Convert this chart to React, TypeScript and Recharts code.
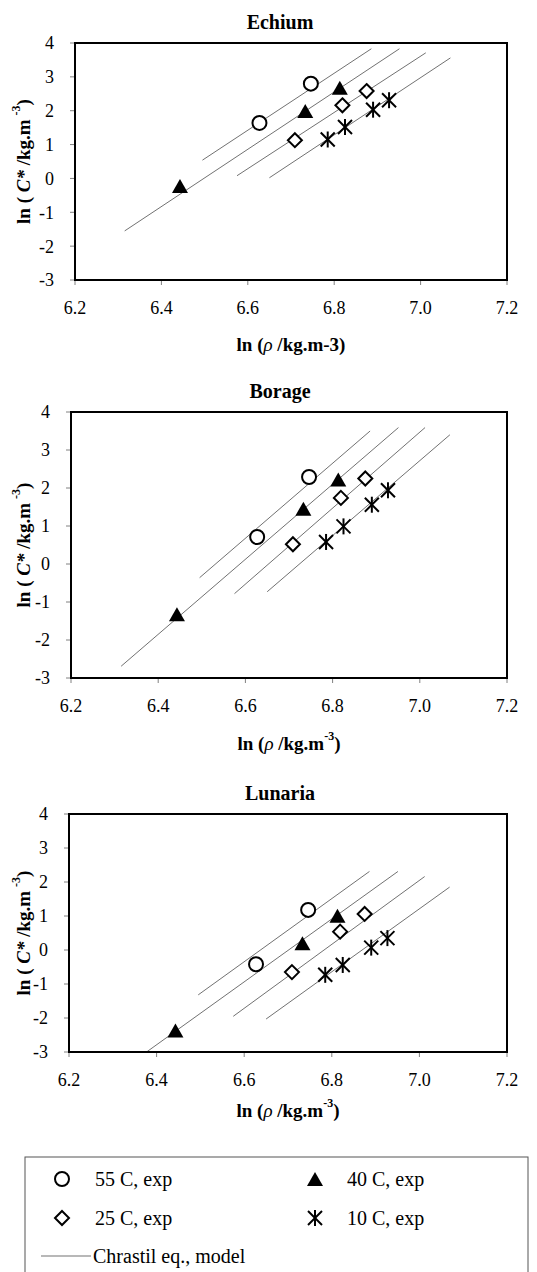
import React from 'react';
import { ScatterChart, Scatter, XAxis, YAxis } from 'recharts';

const FONT = "'Liberation Serif', 'Times New Roman', Times, serif";

const xTicks = [6.2, 6.4, 6.6, 6.8, 7.0, 7.2];
const yTicks = [-3, -2, -1, 0, 1, 2, 3, 4];

// ln(rho) of the experimental points, same for all three oils
const rho55 = [6.627, 6.746];
const rho40 = [6.443, 6.733, 6.813];
const rho25 = [6.709, 6.819, 6.875];
const rho10 = [6.785, 6.825, 6.89, 6.927];

// ln(rho) at the ends of the Chrastil lines
const model55 = [6.495, 6.886];
const model40 = [6.315, 6.951];
const model25 = [6.575, 7.012];
const model10 = [6.65, 7.069];
const lunariaModel40 = [6.377, 6.951];

// Echium
const echium55 = [1.64, 2.8];
const echium40 = [-0.25, 1.96, 2.65];
const echium25 = [1.13, 2.16, 2.58];
const echium10 = [1.15, 1.52, 2.03, 2.31];
const echiumFit55 = [0.54, 3.83];
const echiumFit40 = [-1.55, 3.83];
const echiumFit25 = [0.08, 3.71];
const echiumFit10 = [0.02, 3.56];

// Borage
const borage55 = [0.71, 2.29];
const borage40 = [-1.35, 1.43, 2.2];
const borage25 = [0.52, 1.74, 2.25];
const borage10 = [0.58, 0.99, 1.56, 1.94];
const borageFit55 = [-0.36, 3.5];
const borageFit40 = [-2.69, 3.59];
const borageFit25 = [-0.78, 3.59];
const borageFit10 = [-0.73, 3.4];

// Lunaria
const lunaria55 = [-0.42, 1.18];
const lunaria40 = [-2.4, 0.17, 0.98];
const lunaria25 = [-0.65, 0.54, 1.06];
const lunaria10 = [-0.73, -0.44, 0.07, 0.35];
const lunariaFit55 = [-1.32, 2.31];
const lunariaFit40 = [-3.0, 2.31];
const lunariaFit25 = [-1.95, 2.16];
const lunariaFit10 = [-2.03, 1.85];

const zip = (xs: number[], ys: number[]) => xs.map((x, i) => ({ x, y: ys[i] }));

const OpenCircle = ({ cx, cy }: any) => (
  <circle cx={cx} cy={cy} r={7} fill="#fff" stroke="#000" strokeWidth={2} />
);
const FilledTriangle = ({ cx, cy }: any) => (
  <polygon points={`${cx},${cy - 8} ${cx - 8},${cy + 6} ${cx + 8},${cy + 6}`} fill="#000" />
);
const OpenDiamond = ({ cx, cy }: any) => (
  <polygon
    points={`${cx},${cy - 7} ${cx + 7},${cy} ${cx},${cy + 7} ${cx - 7},${cy}`}
    fill="#fff"
    stroke="#000"
    strokeWidth={2}
  />
);
const Star = ({ cx, cy }: any) => (
  <g stroke="#000" strokeWidth={2}>
    <line x1={cx} y1={cy - 8} x2={cx} y2={cy + 8} />
    <line x1={cx - 7} y1={cy - 7} x2={cx + 7} y2={cy + 7} />
    <line x1={cx - 7} y1={cy + 7} x2={cx + 7} y2={cy - 7} />
  </g>
);
const NoShape = () => <g />;

interface PanelProps {
  title: string;
  top: number;
  height: number;
  plotTop: number;
  plotBottom: number;
  plotLeft: number;
  xLabelGap: number;
  supLabel: boolean;
  pts: number[][];
  fits: number[][];
  fit40x: number[];
}

const PLOT_RIGHT = 507;

function Panel({ title, top, height, plotTop, plotBottom, plotLeft, xLabelGap, supLabel, pts, fits, fit40x }: PanelProps) {
  const tickStyle = { fill: '#000', fontSize: 18, style: { fontFamily: FONT } };
  const lineStyle = { stroke: '#333', strokeWidth: 0.7 };

  const yTitle = (props: any) => {
    const vb = props.viewBox;
    const cy = vb.y + vb.height / 2;
    return (
      <text
        transform={`translate(23,${cy}) rotate(-90)`}
        textAnchor="middle"
        dominantBaseline="central"
        style={{ fontFamily: FONT }}
        fontWeight="bold"
        fontSize={19}
        fill="#000"
      >
        ln ( <tspan fontStyle="italic">C*</tspan> /kg.m
        <tspan dx={4} dy={-7} fontSize={12}>-3</tspan>
        <tspan dy={7}>)</tspan>
      </text>
    );
  };

  const xTitle = (props: any) => {
    const vb = props.viewBox;
    const cx = vb.x + vb.width / 2;
    return (
      <text
        x={cx}
        y={vb.y + xLabelGap}
        textAnchor="middle"
        dominantBaseline="central"
        style={{ fontFamily: FONT }}
        fontWeight="bold"
        fontSize={19}
        fill="#000"
      >
        ln (<tspan fontStyle="italic" fontWeight="normal">ρ</tspan>  /kg.m
        {supLabel ? (
          <>
            <tspan dy={-7} fontSize={12}>-3</tspan>
            <tspan dy={7}>)</tspan>
          </>
        ) : (
          <tspan>-3)</tspan>
        )}
      </text>
    );
  };

  return (
    <div style={{ position: 'absolute', left: 0, top, width: 537, height }}>
      <div
        style={{
          position: 'absolute',
          left: 0,
          width: 560,
          top: plotTop - 31,
          textAlign: 'center',
          fontFamily: FONT,
          fontWeight: 'bold',
          fontSize: 20,
          lineHeight: '20px',
        }}
      >
        {title}
      </div>
      <ScatterChart width={537} height={height} margin={{ top: plotTop, right: 537 - PLOT_RIGHT, bottom: 0, left: 0 }}>
        <XAxis
          type="number"
          dataKey="x"
          domain={[6.2, 7.2]}
          ticks={xTicks}
          interval={0}
          tickFormatter={(v: number) => v.toFixed(1)}
          axisLine={false}
          tickLine={{ stroke: '#808080' }}
          tickSize={5}
          tickMargin={16}
          tick={tickStyle}
          height={height - plotBottom}
          label={{ content: xTitle }}
        />
        <YAxis
          type="number"
          dataKey="y"
          domain={[-3, 4]}
          ticks={yTicks}
          interval={0}
          axisLine={false}
          tickLine={{ stroke: '#808080' }}
          tickSize={5}
          tickMargin={16}
          tick={tickStyle}
          width={plotLeft}
          label={{ content: yTitle }}
        />
        <Scatter data={zip(model55, fits[0])} line={lineStyle} shape={NoShape} isAnimationActive={false} />
        <Scatter data={zip(fit40x, fits[1])} line={lineStyle} shape={NoShape} isAnimationActive={false} />
        <Scatter data={zip(model25, fits[2])} line={lineStyle} shape={NoShape} isAnimationActive={false} />
        <Scatter data={zip(model10, fits[3])} line={lineStyle} shape={NoShape} isAnimationActive={false} />
        <Scatter data={zip(rho55, pts[0])} shape={OpenCircle} isAnimationActive={false} />
        <Scatter data={zip(rho40, pts[1])} shape={FilledTriangle} isAnimationActive={false} />
        <Scatter data={zip(rho25, pts[2])} shape={OpenDiamond} isAnimationActive={false} />
        <Scatter data={zip(rho10, pts[3])} shape={Star} isAnimationActive={false} />
      </ScatterChart>
      {/* plot frame */}
      <svg
        style={{ position: 'absolute', left: 0, top: 0, pointerEvents: 'none' }}
        width={537}
        height={height}
      >
        <rect
          x={plotLeft}
          y={plotTop}
          width={PLOT_RIGHT - plotLeft}
          height={plotBottom - plotTop}
          fill="none"
          stroke="#000"
          strokeWidth={2}
        />
      </svg>
    </div>
  );
}

function Legend() {
  const text = { fontSize: 20, fill: '#000', style: { fontFamily: FONT } } as const;
  return (
    <svg style={{ position: 'absolute', left: 0, top: 1150 }} width={537} height={122}>
      <rect x={25} y={7} width={503} height={140} fill="#fff" stroke="#555" strokeWidth={1} />
      <OpenCircle cx={62} cy={29} />
      <text x={95} y={29} dominantBaseline="central" {...text}>55 C, exp</text>
      <FilledTriangle cx={315} cy={30} />
      <text x={347} y={29} dominantBaseline="central" {...text}>40 C, exp</text>
      <OpenDiamond cx={62} cy={68} />
      <text x={95} y={68} dominantBaseline="central" {...text}>25 C, exp</text>
      <Star cx={315} cy={68} />
      <text x={347} y={68} dominantBaseline="central" {...text}>10 C, exp</text>
      <line x1={41} y1={106} x2={91} y2={106} stroke="#333" strokeWidth={0.7} />
      <text x={93} y={106} dominantBaseline="central" {...text}>Chrastil eq., model</text>
    </svg>
  );
}

export default function App() {
  return (
    <div style={{ position: 'absolute', left: 0, top: 0, width: 537, height: 1272, background: '#fff', overflow: 'hidden', fontFamily: FONT }}>
      <Panel
        title="Echium"
        top={0}
        height={360}
        plotTop={43}
        plotBottom={280}
        plotLeft={75}
        xLabelGap={64}
        supLabel={false}
        pts={[echium55, echium40, echium25, echium10]}
        fits={[echiumFit55, echiumFit40, echiumFit25, echiumFit10]}
        fit40x={model40}
      />
      <Panel
        title="Borage"
        top={360}
        height={400}
        plotTop={52}
        plotBottom={318}
        plotLeft={71}
        xLabelGap={65}
        supLabel={true}
        pts={[borage55, borage40, borage25, borage10]}
        fits={[borageFit55, borageFit40, borageFit25, borageFit10]}
        fit40x={model40}
      />
      <Panel
        title="Lunaria"
        top={760}
        height={380}
        plotTop={54}
        plotBottom={292}
        plotLeft={69}
        xLabelGap={58}
        supLabel={true}
        pts={[lunaria55, lunaria40, lunaria25, lunaria10]}
        fits={[lunariaFit55, lunariaFit40, lunariaFit25, lunariaFit10]}
        fit40x={lunariaModel40}
      />
      <Legend />
    </div>
  );
}
